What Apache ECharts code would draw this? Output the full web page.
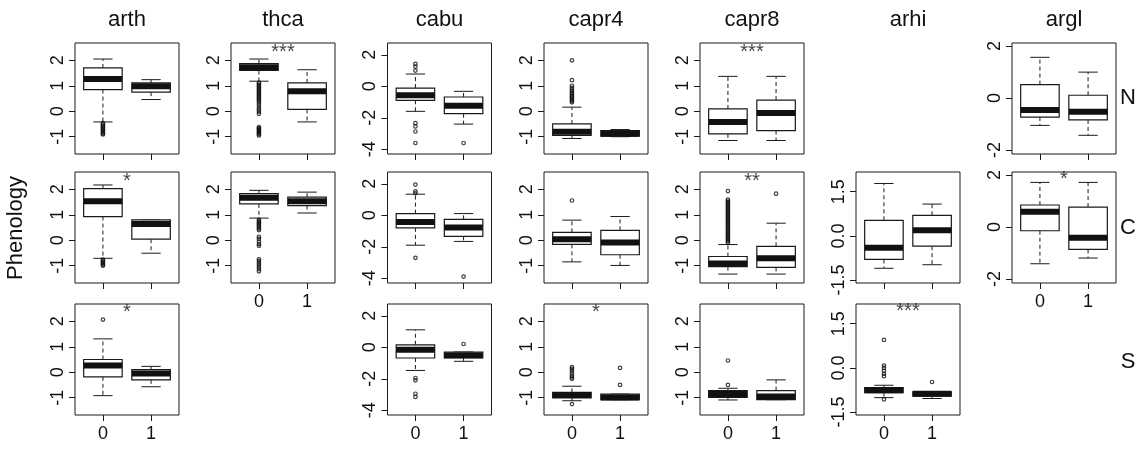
<!DOCTYPE html>
<html><head><meta charset="utf-8">
<script src="https://cdn.jsdelivr.net/npm/echarts@6/dist/echarts.min.js"></script>
<style>html,body{margin:0;padding:0;background:#fff}#c{width:1142px;height:450px}</style>
</head><body><div id="c"></div>
<script>
// ---------- data ----------
const species = ['arth', 'thca', 'cabu', 'capr4', 'capr8', 'arhi', 'argl'];
const regions = ['N', 'C', 'S'];
const xLabels = ['0', '1'];
const yAxisLabel = 'Phenology';

// y ranges and tick values per species column
const yRange = {
  arth: [-1.68, 2.68], thca: [-1.68, 2.68], cabu: [-4.3, 2.75], capr4: [-1.68, 2.68],
  capr8: [-1.68, 2.68], arhi: [-1.6, 2.17], argl: [-2.15, 2.12]
};
const yTicks = {
  arth: [-1, 0, 1, 2], thca: [-1, 0, 1, 2], cabu: [-4, -2, 0, 2], capr4: [-1, 0, 1, 2],
  capr8: [-1, 0, 1, 2], arhi: [-1.5, 0, 1.5], argl: [-2, 0, 2]
};

// box statistics: [lower whisker, Q1, median, Q3, upper whisker] for groups 0 and 1
const arth_N = [[-0.42, 0.85, 1.27, 1.70, 2.05], [0.46, 0.75, 0.98, 1.11, 1.24]];
const arth_N_out = [[-0.47, -0.52, -0.56, -0.6, -0.64, -0.68, -0.72, -0.76, -0.8, -0.84, -0.88, -0.91], []];
const thca_N = [[1.18, 1.60, 1.73, 1.87, 2.05], [-0.42, 0.07, 0.78, 1.11, 1.63]];
const thca_N_out = [[1.12, 1.08, 1.03, 0.98, 0.93, 0.88, 0.83, 0.78, 0.73, 0.68, 0.63, 0.58, 0.53, 0.48, 0.43, 0.38, 0.3, 0.22, 0.12, 0.05, -0.02, -0.1, -0.62, -0.66, -0.7, -0.74, -0.78, -0.82, -0.86, -0.9, -0.95], []];
const cabu_N = [[-1.59, -0.89, -0.57, -0.11, 0.78], [-2.4, -1.74, -1.23, -0.68, -0.32]];
const cabu_N_out = [[1.42, 1.25, 1.0, -2.34, -2.55, -2.87, -3.6], [-3.6]];
const capr4_N = [[-1.07, -0.95, -0.81, -0.50, 0.16], [-1.0, -0.98, -0.88, -0.76, -0.72]];
const capr4_N_out = [[2.0, 1.22, 1.0, 0.92, 0.85, 0.78, 0.72, 0.66, 0.6, 0.55, 0.5, 0.45, 0.4, 0.35], []];
const capr8_N = [[-1.15, -0.89, -0.42, 0.09, 1.37], [-1.15, -0.76, -0.07, 0.44, 1.37]];
const capr8_N_out = [[], []];
const argl_N = [[-1.05, -0.73, -0.46, 0.52, 1.57], [-1.43, -0.84, -0.52, 0.11, 1.0]];
const argl_N_out = [[], []];

const arth_C = [[-0.71, 0.93, 1.53, 2.03, 2.17], [-0.51, 0.04, 0.64, 0.80, 0.80]];
const arth_C_out = [[-0.76, -0.8, -0.84, -0.88, -0.92, -0.96, -1.0], []];
const thca_C = [[0.87, 1.43, 1.67, 1.83, 1.96], [1.07, 1.36, 1.53, 1.69, 1.89]];
const thca_C_out = [[0.8, 0.75, 0.7, 0.65, 0.6, 0.55, 0.5, 0.45, 0.4, 0.13, 0.05, -0.05, -0.15, -0.22, -0.75, -0.82, -0.9, -0.98, -1.06, -1.14, -1.22], []];
const cabu_C = [[-1.9, -0.8, -0.43, 0.11, 1.34], [-1.66, -1.34, -0.78, -0.26, 0.11]];
const cabu_C_out = [[1.95, 1.52, 1.4, -2.7], [-3.89]];
const capr4_C = [[-0.85, -0.16, 0.04, 0.31, 0.79], [-0.99, -0.57, -0.09, 0.39, 0.93]];
const capr4_C_out = [[1.56], []];
const capr8_C = [[-1.33, -1.04, -0.91, -0.64, -0.17], [-1.33, -1.07, -0.71, -0.24, 0.67]];
const capr8_C_out = [[-0.1, -0.05, 0.0, 0.05, 0.1, 0.15, 0.2, 0.25, 0.3, 0.35, 0.4, 0.45, 0.5, 0.55, 0.6, 0.65, 0.7, 0.75, 0.8, 0.85, 0.9, 0.95, 1.0, 1.05, 1.1, 1.15, 1.2, 1.25, 1.3, 1.35, 1.4, 1.45, 1.5, 1.55, 1.6, 1.93], [1.83]];
const arhi_C = [[-1.10, -0.80, -0.40, 0.53, 1.78], [-0.98, -0.35, 0.19, 0.70, 1.08]];
const arhi_C_out = [[], []];
const argl_C = [[-1.41, -0.14, 0.59, 0.85, 1.72], [-1.19, -0.86, -0.41, 0.77, 1.72]];
const argl_C_out = [[], []];

const arth_S = [[-0.92, -0.18, 0.26, 0.50, 1.31], [-0.57, -0.30, -0.05, 0.10, 0.23]];
const arth_S_out = [[2.07], []];
const cabu_S = [[-1.47, -0.68, -0.15, 0.16, 1.11], [-0.89, -0.68, -0.51, -0.30, -0.30]];
const cabu_S_out = [[-1.95, -2.1, -2.95, -3.15], [0.21]];
const capr4_S = [[-1.12, -1.01, -0.89, -0.79, -0.55], [-1.08, -1.08, -0.99, -0.86, -0.86]];
const capr4_S_out = [[0.2, 0.13, 0.05, -0.04, -0.13, -0.2, -0.26, -1.25], [0.17, -0.5]];
const capr8_S = [[-1.09, -0.99, -0.86, -0.72, -0.63], [-1.08, -1.08, -0.95, -0.72, -0.30]];
const capr8_S_out = [[0.46, -0.5], []];
const arhi_S = [[-1.01, -0.84, -0.76, -0.67, -0.59], [-1.04, -0.96, -0.88, -0.81, -0.81]];
const arhi_S_out = [[0.95, 0.08, 0.0, -0.1, -0.2, -0.28, -1.07], [-0.48]];

// significance marks: [text, x position, y value]
const thca_N_sig = ['***', 1.5, 2.3];
const capr8_N_sig = ['***', 1.5, 2.3];
const arth_C_sig = ['*', 1.5, 2.29];
const capr8_C_sig = ['**', 1.5, 2.3];
const argl_C_sig = ['*', 1.5, 1.82];
const arth_S_sig = ['*', 1.5, 2.33];
const capr4_S_sig = ['*', 1.5, 2.33];
const arhi_S_sig = ['***', 1.5, 1.91];

// panel list (species, region row, stats, outliers, significance, x labels shown)
const panels = [
  ['arth', 0, arth_N, arth_N_out, null, false],
  ['thca', 0, thca_N, thca_N_out, thca_N_sig, false],
  ['cabu', 0, cabu_N, cabu_N_out, null, false],
  ['capr4', 0, capr4_N, capr4_N_out, null, false],
  ['capr8', 0, capr8_N, capr8_N_out, capr8_N_sig, false],
  ['argl', 0, argl_N, argl_N_out, null, false],
  ['arth', 1, arth_C, arth_C_out, arth_C_sig, false],
  ['thca', 1, thca_C, thca_C_out, null, true],
  ['cabu', 1, cabu_C, cabu_C_out, null, false],
  ['capr4', 1, capr4_C, capr4_C_out, null, false],
  ['capr8', 1, capr8_C, capr8_C_out, capr8_C_sig, false],
  ['arhi', 1, arhi_C, arhi_C_out, null, false],
  ['argl', 1, argl_C, argl_C_out, argl_C_sig, true],
  ['arth', 2, arth_S, arth_S_out, arth_S_sig, true],
  ['cabu', 2, cabu_S, cabu_S_out, null, true],
  ['capr4', 2, capr4_S, capr4_S_out, capr4_S_sig, true],
  ['capr8', 2, capr8_S, capr8_S_out, null, true],
  ['arhi', 2, arhi_S, arhi_S_out, arhi_S_sig, true]
];

// ---------- layout ----------
const FONT = "'Liberation Sans', Arial, Helvetica, sans-serif";
const colLeft = [75, 231, 387.5, 544, 700, 856, 1012];
const rowTop = [43, 172, 304];
const PW = 104, PH = 111;
const INK = '#1a1a1a';

const grids = [], xAxes = [], yAxes = [], series = [];

function renderBox(params, api) {
  const x = api.value(0);
  const lo = api.value(1), q1 = api.value(2), md = api.value(3), q3 = api.value(4), hi = api.value(5);
  const c = (xx, v) => api.coord([xx, v]);
  const half = 0.4, cap = 0.2;
  const tl = c(x - half, q3), br = c(x + half, q1);
  const line = (a, b, style) => ({ type: 'line', shape: { x1: a[0], y1: a[1], x2: b[0], y2: b[1] }, style: style });
  const dashed = { stroke: INK, lineWidth: 1, lineDash: [4, 3], fill: null };
  const solid = { stroke: INK, lineWidth: 1, fill: null };
  return {
    type: 'group',
    children: [
      line(c(x, q3), c(x, hi), dashed),
      line(c(x, q1), c(x, lo), dashed),
      line(c(x - cap, hi), c(x + cap, hi), solid),
      line(c(x - cap, lo), c(x + cap, lo), solid),
      { type: 'rect', shape: { x: tl[0], y: tl[1], width: br[0] - tl[0], height: Math.max(br[1] - tl[1], 0.5) },
        style: { fill: '#fff', stroke: INK, lineWidth: 1.2 } },
      line(c(x - half, md), c(x + half, md), { stroke: '#111', lineWidth: 6, lineCap: 'butt', fill: null })
    ]
  };
}

panels.forEach((p, i) => {
  const [sp, row, stats, outs, sig, showX] = p;
  const col = species.indexOf(sp);
  grids.push({ left: colLeft[col], top: rowTop[row], width: PW, height: PH, show: true,
    borderColor: INK, borderWidth: 1, backgroundColor: 'transparent' });
  xAxes.push({
    type: 'value', gridIndex: i, min: 0.42, max: 2.58,
    axisLine: { show: false, onZero: false },
    axisTick: { show: true, customValues: [1, 2], length: 6, lineStyle: { color: INK } },
    axisLabel: { show: showX, customValues: [1, 2], formatter: v => xLabels[Math.round(v) - 1],
      fontSize: 18, color: '#111', fontFamily: FONT, margin: 10 },
    splitLine: { show: false }
  });
  const ticks = yTicks[sp];
  const dec = sp === 'arhi' ? 1 : 0;
  yAxes.push({
    type: 'value', gridIndex: i, min: yRange[sp][0], max: yRange[sp][1],
    axisLine: { show: false, onZero: false },
    axisTick: { show: true, customValues: ticks, length: 6, lineStyle: { color: INK } },
    axisLabel: { show: true, customValues: ticks, rotate: 90, formatter: v => Number(v).toFixed(dec),
      fontSize: 18, color: '#111', fontFamily: FONT, margin: 8 },
    splitLine: { show: false }
  });
  series.push({
    type: 'custom', xAxisIndex: i, yAxisIndex: i, renderItem: renderBox,
    encode: { x: 0, y: [1, 2, 3, 4, 5] },
    data: stats.map((s, g) => [g + 1].concat(s)), silent: true, z: 2
  });
  const pts = [];
  outs.forEach((arr, g) => arr.forEach(v => pts.push([g + 1, v])));
  series.push({
    type: 'scatter', xAxisIndex: i, yAxisIndex: i, data: pts, symbol: 'circle', symbolSize: 3.5,
    itemStyle: { color: 'rgba(255,255,255,0)', borderColor: '#111', borderWidth: 1.2 }, silent: true, z: 3
  });
  if (sig) {
    series.push({
      type: 'scatter', xAxisIndex: i, yAxisIndex: i, symbolSize: 0, silent: true, z: 4,
      data: [{ value: [sig[1], sig[2]] }],
      label: { show: true, position: 'inside', formatter: sig[0], fontSize: 20, color: '#111', fontFamily: FONT }
    });
  }
});

const graphics = [];
species.forEach((sp, c) => {
  graphics.push({ type: 'text', x: colLeft[c] + PW / 2, y: 20,
    style: { text: sp, fontSize: 22, fontFamily: FONT, fill: '#111', align: 'center', verticalAlign: 'middle' } });
});
const rowLabelY = [98, 228, 362];
regions.forEach((r, k) => {
  graphics.push({ type: 'text', x: 1128, y: rowLabelY[k],
    style: { text: r, fontSize: 22, fontFamily: FONT, fill: '#111', align: 'center', verticalAlign: 'middle' } });
});
graphics.push({ type: 'text', x: 16, y: 228, rotation: Math.PI / 2,
  style: { text: yAxisLabel, fontSize: 22, fontFamily: FONT, fill: '#111', align: 'center', verticalAlign: 'middle' } });

const chart = echarts.init(document.getElementById('c'), null, { renderer: 'canvas' });
chart.setOption({
  animation: false,
  backgroundColor: '#fff',
  grid: grids, xAxis: xAxes, yAxis: yAxes, series: series, graphic: graphics
});
</script></body></html>
